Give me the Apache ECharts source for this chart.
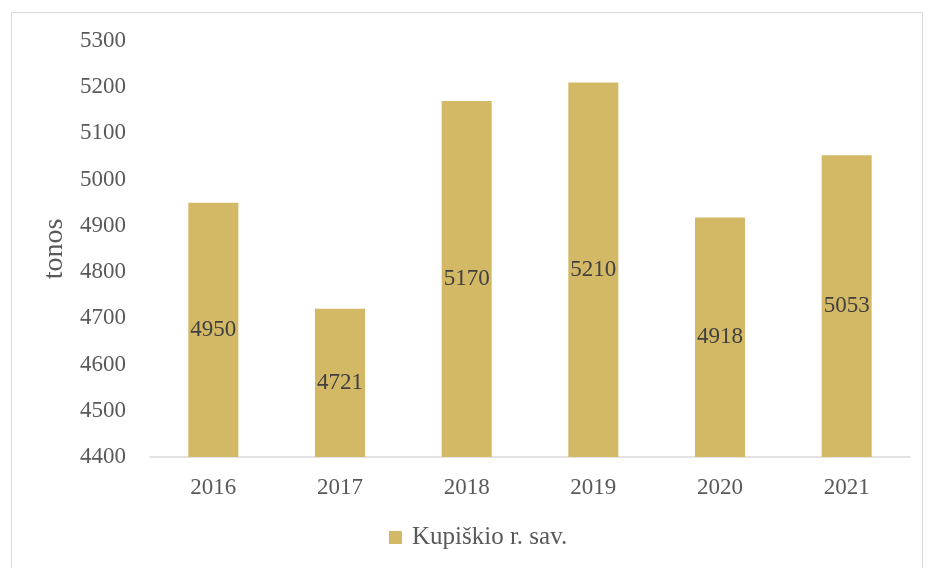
<!DOCTYPE html>
<html>
<head>
<meta charset="utf-8">
<script src="https://cdn.jsdelivr.net/npm/echarts@6/dist/echarts.min.js"></script>
<style>
  html, body { margin: 0; padding: 0; background: #fff; }
  #chart { width: 927px; height: 568px; }
</style>
</head>
<body>
<div id="chart"></div>
<script>
const years = ['2016', '2017', '2018', '2019', '2020', '2021']
const tons = [4950, 4721, 5170, 5210, 4918, 5053]
const seriesName = 'Kupiškio r. sav.'

const font = '"Liberation Serif", "DejaVu Serif", serif'
const chart = echarts.init(document.getElementById('chart'))

chart.setOption({
  animation: false,
  textStyle: { fontFamily: font },
  graphic: [{
    type: 'rect',
    shape: { x: 11.5, y: 12.5, width: 911, height: 580 },
    style: { fill: 'none', stroke: '#d9d9d9', lineWidth: 1 },
    silent: true
  }],
  grid: { left: 150, right: 17, top: 41, bottom: 111 },
  legend: {
    bottom: 13,
    left: 384,
    itemWidth: 13,
    itemHeight: 13,
    icon: 'rect',
    textStyle: {
      fontFamily: font,
      fontSize: 25,
      color: '#595959',
      padding: [0, 0, 0, 5]
    },
    data: [seriesName]
  },
  xAxis: {
    type: 'category',
    data: years,
    axisLine: { lineStyle: { color: '#d9d9d9', width: 1.5 } },
    axisTick: { show: false },
    axisLabel: { color: '#595959', fontSize: 23, fontFamily: font, margin: 19 }
  },
  yAxis: {
    type: 'value',
    min: 4400,
    max: 5300,
    interval: 100,
    name: 'tonos',
    nameLocation: 'middle',
    nameGap: 77,
    nameTextStyle: { color: '#595959', fontSize: 28, fontFamily: font },
    axisLine: { show: false },
    axisTick: { show: false },
    splitLine: { show: false },
    axisLabel: {
      color: '#595959',
      fontSize: 23,
      fontFamily: font,
      margin: 24,
      formatter: v => String(v)
    }
  },
  series: [{
    name: seriesName,
    type: 'bar',
    data: tons,
    barWidth: '39.5%',
    itemStyle: { color: '#d3b966' },
    label: {
      show: true,
      position: 'inside',
      color: '#404040',
      fontSize: 23,
      fontFamily: font
    }
  }]
})
</script>
</body>
</html>
